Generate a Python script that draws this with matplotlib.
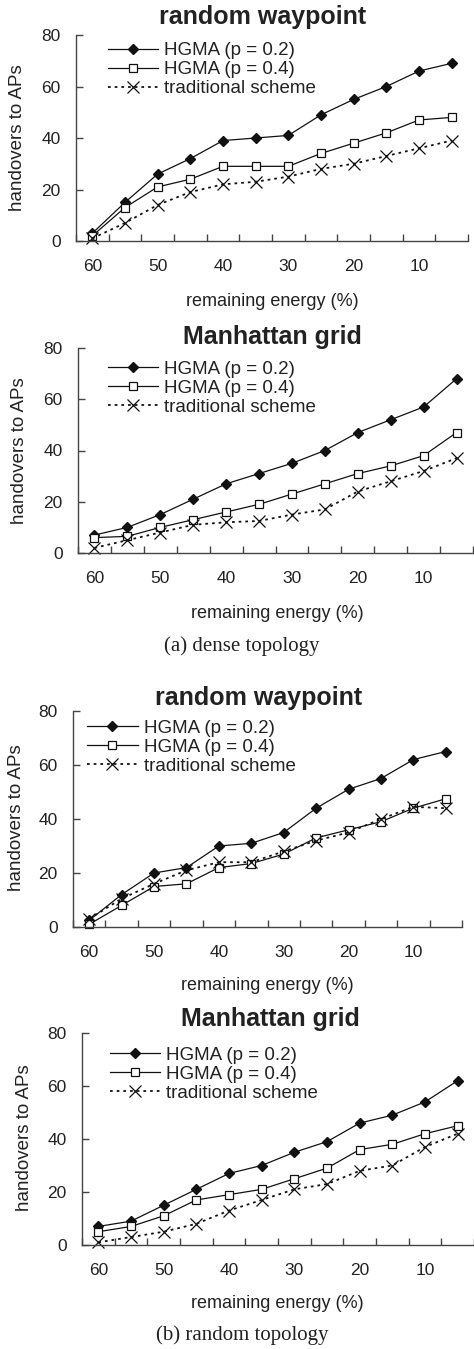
import matplotlib
matplotlib.use("Agg")
import matplotlib.pyplot as plt
import numpy as np

# remaining energy categories (%)
energy = [60, 55, 50, 45, 40, 35, 30, 25, 20, 15, 10, 5]
tick_labels = ["60", "50", "40", "30", "20", "10"]
series_names = ["HGMA (p = 0.2)", "HGMA (p = 0.4)", "traditional scheme"]

# (a) dense topology
dense_rwp_p02 = [3, 15, 26, 32, 39, 40, 41, 49, 55, 60, 66, 69]
dense_rwp_p04 = [2, 13, 21, 24, 29, 29, 29, 34, 38, 42, 47, 48]
dense_rwp_trad = [1, 7, 14, 19, 22, 23, 25, 28, 30, 33, 36, 39]

dense_man_p02 = [7, 10, 15, 21, 27, 31, 35, 40, 47, 52, 57, 68]
dense_man_p04 = [6, 6.5, 10, 13, 16, 19, 23, 27, 31, 34, 38, 47]
dense_man_trad = [2, 5, 8, 11, 12, 12.5, 15, 17, 24, 28, 32, 37]

# (b) random topology
rand_rwp_p02 = [2.5, 12, 20, 22, 30, 31, 35, 44, 51, 55, 62, 65]
rand_rwp_p04 = [1, 8, 15, 16, 22, 23.5, 27, 33, 36, 39, 44, 47.5]
rand_rwp_trad = [3, 10.5, 16, 21, 24, 24, 28, 32, 35, 40, 44.5, 44]

rand_man_p02 = [7, 9, 15, 21, 27, 30, 35, 39, 46, 49, 54, 62]
rand_man_p04 = [5, 7, 11, 17, 19, 21, 25, 29, 36, 38, 42, 45]
rand_man_trad = [1, 3, 5, 8, 13, 17, 21, 23, 28, 30, 37, 42]

W, H = 474, 1349
TXT = "#222222"
LINE = "#111111"
plt.rcParams["font.family"] = ["Liberation Sans", "DejaVu Sans"]

fig = plt.figure(figsize=(W / 100, H / 100), dpi=100)


def px(x, y):
    """pixel position -> figure fraction"""
    return x / W, 1 - y / H


def draw_panel(rect, title, title_xy, xlabel_xy, ylabel_xy, legend_xy, handle_len, data):
    left, right, top, bottom = rect
    ax = fig.add_axes([left / W, 1 - bottom / H, (right - left) / W, (bottom - top) / H])
    idx = np.arange(len(energy))
    p02, p04, trad = data

    ax.plot(idx, p02, color=LINE, linewidth=0.9, marker="D", markersize=5.0,
            markerfacecolor=LINE, markeredgecolor=LINE, label=series_names[0], clip_on=False)
    ax.plot(idx, p04, color=LINE, linewidth=0.9, marker="s", markersize=5.8,
            markerfacecolor="white", markeredgecolor=LINE, markeredgewidth=0.9,
            label=series_names[1], clip_on=False)
    ax.plot(idx, trad, color=LINE, linewidth=1.3, linestyle=(0, (1.5, 2.2)), marker="x",
            markersize=8, markeredgewidth=0.9, markeredgecolor=LINE,
            label=series_names[2], clip_on=False)

    ax.set_xlim(-0.5, len(energy) - 0.5)
    ax.set_ylim(0, 80)
    ax.set_yticks([0, 20, 40, 60, 80])
    ax.set_xticks(np.arange(-0.5, len(energy), 1.0))
    ax.set_xticklabels([])
    ax.set_xticks(idx[::2], minor=True)
    ax.set_xticklabels(tick_labels, minor=True)

    for side in ["top", "right"]:
        ax.spines[side].set_visible(False)
    for side in ["left", "bottom"]:
        ax.spines[side].set_color("#444444")
        ax.spines[side].set_linewidth(1.0)

    ax.tick_params(axis="x", which="major", direction="in", length=5, width=1.0, color="#444444")
    ax.tick_params(axis="x", which="minor", length=0, pad=13, labelsize=12.5, labelcolor=TXT)
    ax.tick_params(axis="y", direction="in", length=5, width=1.0, color="#444444",
                   pad=11, labelsize=12.5, labelcolor=TXT)

    fig.text(*px(*title_xy), title, ha="center", va="center", fontsize=18,
             fontweight="bold", color=TXT)
    fig.text(*px(*xlabel_xy), "remaining energy (%)", ha="center", va="center",
             fontsize=13, color=TXT)
    fig.text(*px(*ylabel_xy), "handovers to APs", ha="center", va="center",
             rotation=90, fontsize=13.5, color=TXT)

    ax.legend(loc="center left", bbox_to_anchor=px(*legend_xy), bbox_transform=fig.transFigure,
              frameon=False, fontsize=13.5, labelspacing=0.1, handlelength=handle_len,
              handletextpad=0.35, borderpad=0, borderaxespad=0, numpoints=1,
              labelcolor=TXT)
    return ax


draw_panel((76, 468, 35, 241), "random waypoint", (263, 17), (272, 302), (18, 138),
           (108, 69.5), 2.65, (dense_rwp_p02, dense_rwp_p04, dense_rwp_trad))
draw_panel((78, 473, 348, 553), "Manhattan grid", (272, 337), (277, 613), (20, 451),
           (108, 388), 2.65, (dense_man_p02, dense_man_p04, dense_man_trad))
draw_panel((73, 462, 711, 927), "random waypoint", (259, 698), (267, 986), (17, 818),
           (87, 747), 2.7, (rand_rwp_p02, rand_rwp_p04, rand_rwp_trad))
draw_panel((82, 474, 1033, 1245), "Manhattan grid", (270, 1019), (277, 1303), (25, 1138),
           (110, 1074), 2.65, (rand_man_p02, rand_man_p04, rand_man_trad))

fig.text(*px(242, 646), "(a) dense topology", ha="center", va="center",
         fontsize=15, family="Liberation Serif", color=TXT)
fig.text(*px(242, 1335), "(b) random topology", ha="center", va="center",
         fontsize=15, family="Liberation Serif", color=TXT)

fig.savefig("out.png", dpi=100)
plt.close()
